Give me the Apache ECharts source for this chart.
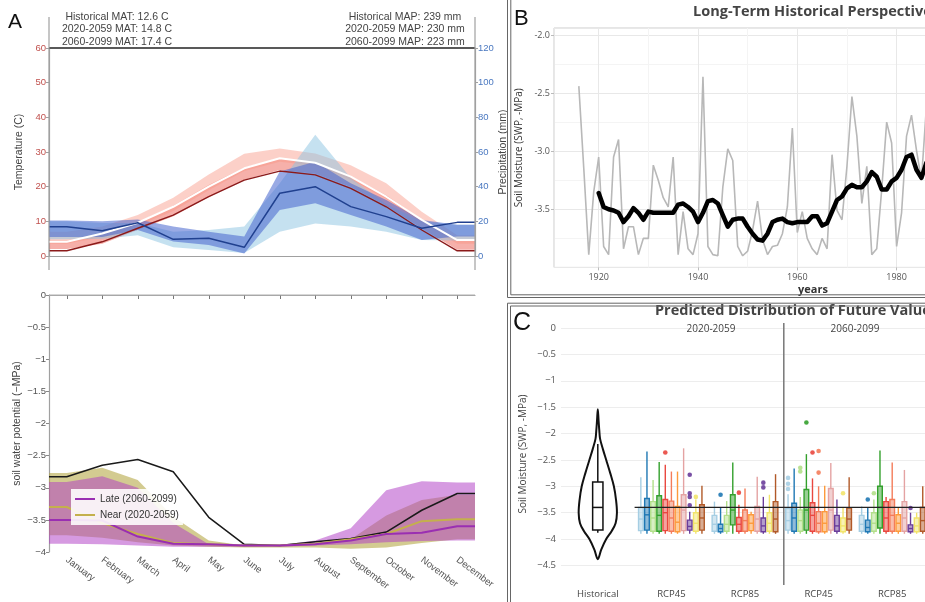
<!DOCTYPE html>
<html><head><meta charset="utf-8">
<script src="https://cdn.jsdelivr.net/npm/echarts@6/dist/echarts.min.js"></script>
<style>html,body{margin:0;padding:0;background:#fff}#c{width:925px;height:602px}</style>
</head><body><div id="c"></div>
<script>
// ---------------- Panel A data ----------------
const months = ['January','February','March','April','May','June','July','August','September','October','November','December'];
const tempHist   = [1.5, 4.1, 8.0, 11.8, 17.1, 21.9, 24.5, 23.4, 19.5, 14.2, 7.5, 1.5];
const tempFuture = [4.1, 6.5, 9.6, 14.2, 20.0, 25.3, 28.2, 26.9, 22.9, 17.1, 10.4, 4.6];
const tempNearLo = [2.0, 3.5, 7.5, 11.5, 17.0, 22.0, 24.8, 23.8, 20.0, 14.5, 8.0, 1.8];
const tempNearHi = [4.5, 6.5, 9.8, 14.5, 20.5, 25.5, 28.3, 27.0, 23.0, 17.5, 10.5, 4.8];
const tempFarLo  = [3.5, 5.5, 8.8, 13.0, 19.0, 24.5, 27.2, 26.0, 22.0, 16.5, 9.5, 3.5];
const tempFarHi  = [7.0, 8.5, 11.8, 16.8, 23.5, 29.5, 31.0, 29.6, 26.2, 21.0, 12.8, 6.0];
const precipHist    = [16.9, 14.6, 19.2, 9.6, 10.2, 5.0, 36.2, 40.0, 28.5, 22.7, 16.0, 19.4];
const precipDarkLo  = [11, 11, 15, 8.3, 6.3, 1.5, 26.5, 30.4, 23.7, 17, 9.2, 11.2];
const precipDarkHi  = [20.5, 20, 21, 17, 14, 11.2, 48.7, 54.4, 42, 32.3, 20.8, 18];
const precipLightLo = [9.6, 10, 12, 5, 3.5, 1.7, 14, 18.8, 17, 14, 9.2, 9];
const precipLightHi = [20, 19, 19, 14, 15, 17, 42, 70, 45, 30, 20, 18];
const swpHist   = [-2.83, -2.65, -2.56, -2.75, -3.46, -3.88, -3.9, -3.84, -3.79, -3.69, -3.35, -3.09];
const swpLate   = [-3.5, -3.51, -3.76, -3.87, -3.88, -3.9, -3.9, -3.88, -3.82, -3.72, -3.7, -3.6];
const swpNear   = [-3.3, -3.55, -3.72, -3.86, -3.88, -3.9, -3.9, -3.87, -3.8, -3.72, -3.52, -3.49];
const lateHi    = [-2.91, -2.82, -3.0, -3.55, -3.88, -3.9, -3.89, -3.82, -3.63, -3.04, -2.9, -2.92];
const lateLo    = [-3.87, -3.88, -3.9, -3.92, -3.92, -3.92, -3.92, -3.9, -3.88, -3.85, -3.83, -3.82];
const nearHi    = [-2.77, -2.69, -2.88, -3.45, -3.82, -3.9, -3.9, -3.86, -3.8, -3.43, -3.19, -3.11];
const nearLo    = [-3.74, -3.78, -3.85, -3.9, -3.92, -3.93, -3.93, -3.93, -3.95, -3.93, -3.86, -3.8];
const headerLeft  = ['Historical MAT: 12.6 C', '2020-2059 MAT: 14.8 C', '2060-2099 MAT: 17.4 C'];
const headerRight = ['Historical MAP: 239 mm', '2020-2059 MAP: 230 mm', '2060-2099 MAP: 223 mm'];

// ---------------- Panel B data ----------------
const annualStart = 1916;
const annualSWP = [-2.44,-3.15,-3.89,-3.35,-3.05,-3.82,-3.89,-3.05,-2.90,-3.84,
  -3.65,-3.65,-3.89,-3.75,-3.75,-3.12,-3.25,-3.40,-3.48,-3.05,
  -3.89,-3.52,-3.84,-3.89,-3.71,-2.36,-3.82,-3.89,-3.90,-3.31,
  -2.98,-3.08,-3.82,-3.90,-3.86,-3.68,-3.43,-3.76,-3.89,-3.82,
  -3.81,-3.71,-3.48,-2.80,-3.70,-3.52,-3.75,-3.84,-3.89,-3.75,
  -3.84,-3.03,-3.51,-3.59,-3.13,-2.53,-2.87,-3.45,-3.13,-3.89,
  -3.84,-3.33,-2.75,-2.93,-3.82,-3.53,-2.87,-2.69,-2.99,-3.25,-2.62];
const smoothStart = 1920;
const smoothSWP = [-3.36,-3.48,-3.50,-3.51,-3.53,-3.61,-3.56,-3.49,-3.53,-3.59,
  -3.52,-3.53,-3.53,-3.53,-3.53,-3.53,-3.46,-3.45,-3.48,-3.52,
  -3.61,-3.53,-3.43,-3.42,-3.45,-3.55,-3.65,-3.59,-3.58,-3.58,
  -3.65,-3.71,-3.76,-3.77,-3.71,-3.61,-3.59,-3.58,-3.61,-3.62,
  -3.61,-3.61,-3.61,-3.56,-3.56,-3.64,-3.62,-3.52,-3.42,-3.39,
  -3.32,-3.29,-3.31,-3.31,-3.26,-3.18,-3.22,-3.33,-3.33,-3.26,
  -3.23,-3.16,-3.05,-3.03,-3.16,-3.23,-3.10,-3.02];

// ---------------- Panel C data ----------------
const cCats = ['Historical', 'RCP45|a', 'RCP85|a', 'RCP45|b', 'RCP85|b'];
const violinLevels  = [-1.54, -1.75, -1.95, -2.1, -2.3, -2.5, -2.75, -3.0, -3.25, -3.5, -3.7, -3.85, -4.0, -4.2, -4.38];
const violinDensity = [0, 0.04, 0.08, 0.12, 0.27, 0.44, 0.65, 0.84, 0.95, 1.0, 0.93, 0.72, 0.44, 0.18, 0];
const histBox = [-3.88, -3.83, -3.4, -2.92, -2.2]; // low, q1, median, q3, high
const histMedian = -3.4;
const modelColors = ['#a6cee3','#1f78b4','#b2df8a','#33a02c','#e9473f','#f47c5a','#fd9a3c','#e4a3a3','#6a3d9a','#f2e46b','#b15928'];
// rows: RCP45 20-59, RCP85 20-59, RCP45 60-99, RCP85 60-99 ; columns: models
const boxHigh = [
  [-2.83,-2.34,-2.88,-2.54,-2.59,-2.72,-2.72,-2.28,-3.48,-3.25,-2.99],
  [-3.29,-3.41,-3.28,-2.55,-3.35,-3.04,-3.48,-2.82,-3.20,-3.16,-2.77],
  [-3.15,-2.66,-3.20,-2.39,-2.85,-3.00,-2.99,-2.56,-3.25,-3.40,-2.83],
  [-3.38,-3.41,-3.25,-2.32,-3.20,-2.55,-3.40,-2.69,-3.50,-3.50,-3.00]];
const boxQ3 = [
  [-3.40,-3.23,-3.29,-3.18,-3.25,-3.28,-3.38,-3.16,-3.64,-3.50,-3.35],
  [-3.55,-3.72,-3.55,-3.16,-3.59,-3.45,-3.54,-3.38,-3.60,-3.50,-3.29],
  [-3.42,-3.32,-3.45,-3.06,-3.31,-3.48,-3.48,-3.04,-3.55,-3.60,-3.41],
  [-3.55,-3.64,-3.50,-3.00,-3.29,-3.25,-3.54,-3.29,-3.73,-3.60,-3.40]];
const boxMed = [
  [-3.62,-3.54,-3.60,-3.55,-3.50,-3.60,-3.68,-3.45,-3.76,-3.70,-3.60],
  [-3.72,-3.80,-3.72,-3.45,-3.72,-3.65,-3.70,-3.62,-3.75,-3.70,-3.62],
  [-3.65,-3.60,-3.65,-3.45,-3.55,-3.70,-3.70,-3.45,-3.75,-3.75,-3.62],
  [-3.72,-3.78,-3.70,-3.40,-3.60,-3.55,-3.70,-3.60,-3.80,-3.75,-3.65]];
const boxQ1 = [
  [-3.84,-3.83,-3.85,-3.85,-3.84,-3.85,-3.86,-3.84,-3.83,-3.85,-3.83],
  [-3.85,-3.86,-3.85,-3.73,-3.85,-3.85,-3.84,-3.85,-3.86,-3.85,-3.86],
  [-3.83,-3.85,-3.85,-3.83,-3.85,-3.86,-3.86,-3.83,-3.85,-3.86,-3.83],
  [-3.85,-3.86,-3.85,-3.79,-3.85,-3.85,-3.85,-3.85,-3.86,-3.86,-3.85]];
const boxLow = [
  [-3.9,-3.9,-3.9,-3.9,-3.9,-3.9,-3.9,-3.9,-3.9,-3.9,-3.9],
  [-3.9,-3.9,-3.9,-3.9,-3.9,-3.9,-3.9,-3.9,-3.9,-3.9,-3.9],
  [-3.9,-3.9,-3.9,-3.9,-3.9,-3.9,-3.9,-3.9,-3.9,-3.9,-3.9],
  [-3.9,-3.9,-3.9,-3.9,-3.9,-3.9,-3.9,-3.9,-3.9,-3.9,-3.9]];
// [category, model, value]
const outliers = [[1,4,-2.36],[1,8,-2.78],[1,8,-3.13],[1,8,-3.2],[1,8,-3.36],[1,9,-3.2],
  [2,1,-3.16],[2,4,-3.12],[2,8,-2.93],[2,8,-3.02],
  [3,3,-1.79],[3,2,-2.65],[3,2,-2.72],[3,4,-2.36],[3,5,-2.33],[3,5,-2.74],[3,9,-3.13],[3,0,-2.84],[3,0,-2.95],[3,0,-3.05],
  [4,1,-3.25],[4,2,-3.13],[4,8,-3.41]];

// ---------------- helpers ----------------
const FA = '"Liberation Sans", Arial, sans-serif';
const FB = '"Open Sans", "Liberation Sans", sans-serif';
const ext = arr => [[0.5, arr[0]]].concat(arr.map((v, i) => [i + 1, v]), [[12.5, arr[arr.length - 1]]]);
const minusFmt = v => Math.abs(v) < 1e-9 ? '0' : (v < 0 ? '\u2212' : '') + String(Math.round(Math.abs(v) * 100) / 100);
function fade(hex, a) {
  const n = parseInt(hex.slice(1), 16);
  return 'rgba(' + (n >> 16) + ',' + ((n >> 8) & 255) + ',' + (n & 255) + ',' + a + ')';
}
function band(xi, yi, lower, upper, color, z) {
  const lo = ext(lower), up = ext(upper);
  return {
    type: 'custom', xAxisIndex: xi, yAxisIndex: yi, z: z || 2, silent: true,
    data: lo.map((p, i) => [p[0], p[1], up[i][1]]),
    encode: {x: 0, y: [1, 2]},
    renderItem(params, api) {
      if (params.dataIndex !== 0) return null;
      const top = up.map(p => api.coord(p));
      const bot = lo.map(p => api.coord(p)).reverse();
      return {type: 'polygon', shape: {points: top.concat(bot)}, style: {fill: color}};
    }
  };
}
function mline(name, xi, yi, arr, color, width, z) {
  return {type: 'line', name, xAxisIndex: xi, yAxisIndex: yi, data: ext(arr), symbol: 'none',
    lineStyle: {color, width}, itemStyle: {color}, z: z || 3, silent: true};
}
function modelSeries(m) {
  const data = [];
  for (let g = 0; g < 4; g++) data.push([g + 1, boxLow[g][m], boxQ1[g][m], boxMed[g][m], boxQ3[g][m], boxHigh[g][m]]);
  const col = modelColors[m];
  const n = modelColors.length;
  return {
    type: 'custom', xAxisIndex: 4, yAxisIndex: 4, z: 4, silent: true, data, encode: {x: 0, y: [1, 5]},
    renderItem(params, api) {
      const bw = api.size([1, 0])[0];
      const step = bw * 0.083;
      const cat = api.value(0);
      const cx = api.coord([cat, 0])[0] + (m - (n - 1) / 2) * step;
      const w = step * 0.76;
      const y = k => api.coord([cat, api.value(k)])[1];
      const yl = y(1), yq1 = y(2), ym = y(3), yq3 = y(4), yh = y(5);
      const st = {stroke: col, lineWidth: 1.4};
      return {type: 'group', children: [
        {type: 'line', shape: {x1: cx, y1: yh, x2: cx, y2: yq3}, style: st},
        {type: 'line', shape: {x1: cx, y1: yq1, x2: cx, y2: yl}, style: st},
        {type: 'rect', shape: {x: cx - w / 2, y: yq3, width: w, height: yq1 - yq3}, style: {fill: fade(col, 0.5), stroke: col, lineWidth: 1.4}},
        {type: 'line', shape: {x1: cx - w / 2, y1: ym, x2: cx + w / 2, y2: ym}, style: st}
      ]};
    }
  };
}

const series = [];
// Panel A top
series.push(band(0, 0, tempNearLo, tempNearHi, 'rgba(238,98,86,0.5)', 2));
series.push(band(0, 0, tempFarLo, tempFarHi, 'rgba(248,150,132,0.45)', 2));
series.push(band(0, 1, precipLightLo, precipLightHi, 'rgba(140,195,225,0.5)', 2));
series.push(band(0, 1, precipDarkLo, precipDarkHi, 'rgba(70,100,205,0.55)', 2));
series.push(mline('histT', 0, 0, tempHist, '#8b1a1a', 1.4, 3));
series.push(mline('futT', 0, 0, tempFuture, '#ffffff', 2, 3));
series.push(mline('histP', 0, 1, precipHist, '#20408f', 1.5, 3));
// Panel A bottom
series.push(band(2, 2, nearLo, nearHi, 'rgba(182,168,72,0.6)', 2));
series.push(band(2, 2, lateLo, lateHi, 'rgba(176,62,198,0.52)', 2));
series.push(mline('histSWP', 2, 2, swpHist, '#1a1a1a', 1.5, 3));
series.push(mline('Near (2020-2059)', 2, 2, swpNear, '#c4b04c', 2, 3));
series.push(mline('Late (2060-2099)', 2, 2, swpLate, '#9a2fb2', 2, 3));
// Panel B
series.push({type: 'line', xAxisIndex: 3, yAxisIndex: 3, data: annualSWP.map((v, i) => [annualStart + i, v]),
  symbol: 'none', lineStyle: {color: '#b8b8b8', width: 1.6}, z: 3, silent: true});
series.push({type: 'line', xAxisIndex: 3, yAxisIndex: 3, data: smoothSWP.map((v, i) => [smoothStart + i, v]),
  symbol: 'none', lineStyle: {color: '#000', width: 4.5, join: 'round', cap: 'round'}, z: 4, silent: true});
// Panel C: separator between periods
series.push({type: 'custom', xAxisIndex: 4, yAxisIndex: 4, z: 2, silent: true, data: [[0, histMedian]],
  renderItem(params, api) {
    const cs = params.coordSys;
    const bw = api.size([1, 0])[0];
    const xSep = api.coord([2, 0])[0] + bw / 2 + 2;
    return {type: 'line', shape: {x1: xSep, y1: cs.y, x2: xSep, y2: cs.y + cs.height}, style: {stroke: '#777', lineWidth: 1.5}};
  }});
// violin
series.push({type: 'custom', xAxisIndex: 4, yAxisIndex: 4, z: 3, silent: true, data: [[0, histMedian]],
  renderItem(params, api) {
    const bw = api.size([1, 0])[0];
    const cx = api.coord([0, 0])[0];
    const maxHalf = bw * 0.26;
    const right = [], left = [];
    violinLevels.forEach((v, i) => {
      const y = api.coord([0, v])[1];
      right.push([cx + violinDensity[i] * maxHalf, y]);
      if (i > 0 && i < violinLevels.length - 1) left.push([cx - violinDensity[i] * maxHalf, y]);
    });
    const pts = right.concat(left.reverse());
    const w = bw * 0.14;
    const [yl, yq1, ym, yq3, yh] = histBox.map(v => api.coord([0, v])[1]);
    const st = {stroke: '#111', lineWidth: 1.5};
    return {type: 'group', children: [
      {type: 'polygon', shape: {points: pts, smooth: 0.35}, style: {fill: '#fff', stroke: '#111', lineWidth: 2}},
      {type: 'line', shape: {x1: cx, y1: yh, x2: cx, y2: yq3}, style: st},
      {type: 'line', shape: {x1: cx, y1: yq1, x2: cx, y2: yl}, style: st},
      {type: 'rect', shape: {x: cx - w / 2, y: yq3, width: w, height: yq1 - yq3}, style: {fill: 'none', stroke: '#111', lineWidth: 1.5}},
      {type: 'line', shape: {x1: cx - w / 2, y1: ym, x2: cx + w / 2, y2: ym}, style: st}
    ]};
  }});
for (let m = 0; m < modelColors.length; m++) series.push(modelSeries(m));
series.push({type: 'custom', xAxisIndex: 4, yAxisIndex: 4, z: 5, silent: true, data: outliers, encode: {x: 0, y: 2},
  renderItem(params, api) {
    const bw = api.size([1, 0])[0];
    const step = bw * 0.083;
    const n = modelColors.length;
    const m = api.value(1);
    const p = api.coord([api.value(0), api.value(2)]);
    return {type: 'circle', shape: {cx: p[0] + (m - (n - 1) / 2) * step, cy: p[1], r: 2.3},
      style: {fill: modelColors[m], opacity: 0.9}};
  }});
// historical median reference line over the future groups
series.push({type: 'custom', xAxisIndex: 4, yAxisIndex: 4, z: 6, silent: true, data: [[0, histMedian]],
  renderItem(params, api) {
    const bw = api.size([1, 0])[0];
    const y = api.coord([0, api.value(1)])[1];
    const x0 = api.coord([1, 0])[0] - bw / 2;
    const x1 = api.coord([4, 0])[0] + bw / 2;
    return {type: 'line', shape: {x1: x0, y1: y, x2: x1, y2: y}, style: {stroke: '#222', lineWidth: 1.3}};
  }});

function txt(text, x, y, opts) {
  return Object.assign({type: 'text', silent: true, z: 20, style: Object.assign({text, x, y, fill: '#444', fontSize: 10.5,
    fontFamily: FA, align: 'center', textAlign: 'center', verticalAlign: 'middle', textVerticalAlign: 'middle'}, opts || {})});
}
function pl(points, color, w) {
  return {type: 'polyline', silent: true, z: 20, shape: {points}, style: {stroke: color, lineWidth: w || 1, fill: null}};
}
const graphics = [];
headerLeft.forEach((t, i) => graphics.push(txt(t, 117, 17 + i * 12.4)));
headerRight.forEach((t, i) => graphics.push(txt(t, 405, 17 + i * 12.4)));
graphics.push(txt('A', 8, 22, {fontSize: 21, fill: '#111', align: 'left', textAlign: 'left'}));
graphics.push(txt('B', 514, 19, {fontSize: 22, fill: '#111', align: 'left', textAlign: 'left'}));
graphics.push(txt('C', 513, 323, {fontSize: 25, fill: '#111', align: 'left', textAlign: 'left'}));
graphics.push(txt('Long-Term Historical Perspective', 693, 12, {fontSize: 14.5, fontWeight: 'bold', fill: '#444', fontFamily: FB, align: 'left', textAlign: 'left'}));
graphics.push(txt('Predicted Distribution of Future Values', 655, 311, {fontSize: 14.5, fontWeight: 'bold', fill: '#444', fontFamily: FB, align: 'left', textAlign: 'left'}));
graphics.push(txt('2020-2059', 711, 329, {fontSize: 10, fill: '#444', fontFamily: FB}));
graphics.push(txt('2060-2099', 855, 329, {fontSize: 10, fill: '#444', fontFamily: FB}));
graphics.push(txt('years', 813, 290, {fontSize: 11, fontWeight: 'bold', fill: '#333', fontFamily: FB}));
// frames
graphics.push(pl([[49, 48], [475, 48]], '#222', 1.3));
graphics.push(pl([[49, 17], [49, 270]], '#a0a0a0', 1.2));
graphics.push(pl([[475, 17], [475, 270]], '#a0a0a0', 1.2));
graphics.push(pl([[49, 295], [475, 295]], '#b0b0b0', 1.2));
graphics.push(pl([[507.5, 0], [507.5, 297.5], [925, 297.5]], '#666', 1));
graphics.push(pl([[510.8, 0], [510.8, 294.8], [925, 294.8]], '#666', 1));
graphics.push(pl([[507.5, 602], [507.5, 303.2], [925, 303.2]], '#666', 1));
graphics.push(pl([[510.5, 602], [510.5, 306], [925, 306]], '#666', 1));

const option = {
  animation: false,
  backgroundColor: '#fff',
  grid: [
    {left: 49, top: 48, width: 426, height: 208, outerBoundsMode: 'none'},
    {left: 49, top: 295, width: 426, height: 257, outerBoundsMode: 'none'},
    {left: 554, top: 28, width: 372, height: 239.4, show: true, borderColor: '#cccccc', borderWidth: 1, backgroundColor: 'transparent', outerBoundsMode: 'none'},
    {left: 561, top: 323, width: 368, height: 262, outerBoundsMode: 'none'}
  ],
  xAxis: [
    {type: 'value', gridIndex: 0, min: 0.5, max: 12.5, axisLine: {show: true, onZero: false, lineStyle: {color: '#a0a0a0', width: 1.2}},
      axisTick: {show: false}, axisLabel: {show: false}, splitLine: {show: false}},
    {type: 'category', gridIndex: 1, data: months, boundaryGap: true,
      axisLine: {show: true, lineStyle: {color: '#a0a0a0', width: 1.2}},
      axisTick: {show: true, alignWithLabel: true, length: 4, lineStyle: {color: '#777'}},
      axisLabel: {rotate: -37, margin: 7, fontSize: 9.5, color: '#555', fontFamily: FA, interval: 0}, splitLine: {show: false}},
    {type: 'value', gridIndex: 1, min: 0.5, max: 12.5, show: false},
    {type: 'value', gridIndex: 2, min: 1911, max: 1985.92, splitNumber: 4, axisLine: {show: false},
      axisTick: {show: true, length: 3, lineStyle: {color: '#bbb'}},
      axisLabel: {fontSize: 9, color: '#555', margin: 6, showMinLabel: false, showMaxLabel: false, fontFamily: FB, formatter: v => String(v)},
      splitLine: {show: true, lineStyle: {color: '#e8e8e8'}},
      minorTick: {show: false, splitNumber: 2}, minorSplitLine: {show: true, lineStyle: {color: '#f4f4f4'}}},
    {type: 'category', gridIndex: 3, data: cCats, boundaryGap: true, axisLine: {show: false}, axisTick: {show: false},
      axisLabel: {formatter: v => v.split('|')[0], fontSize: 9.5, color: '#444', margin: 4, fontFamily: FB, interval: 0}, splitLine: {show: false}}
  ],
  yAxis: [
    {type: 'value', gridIndex: 0, min: 0, max: 60, interval: 10, position: 'left',
      name: 'Temperature (C)', nameLocation: 'middle', nameGap: 24, nameTextStyle: {color: '#444', fontSize: 10.5, fontFamily: FA},
      axisLine: {show: true, lineStyle: {color: '#a0a0a0', width: 1.2}}, axisTick: {show: true, length: 3, lineStyle: {color: '#a0a0a0'}},
      axisLabel: {color: '#c0504d', fontSize: 9.5, margin: 3, fontFamily: FA}, splitLine: {show: false}},
    {type: 'value', gridIndex: 0, min: 0, max: 120, interval: 20, position: 'right',
      name: 'Precipitation (mm)', nameLocation: 'middle', nameGap: 20, nameTextStyle: {color: '#444', fontSize: 10.5, fontFamily: FA},
      axisLine: {show: true, lineStyle: {color: '#a0a0a0', width: 1.2}}, axisTick: {show: true, length: 3, lineStyle: {color: '#a0a0a0'}},
      axisLabel: {color: '#4a78c0', fontSize: 9.5, margin: 3, fontFamily: FA}, splitLine: {show: false}},
    {type: 'value', gridIndex: 1, min: -4, max: 0, interval: 0.5,
      name: 'soil water potential (\u2212MPa)', nameLocation: 'middle', nameGap: 26, nameTextStyle: {color: '#444', fontSize: 10.5, fontFamily: FA},
      axisLine: {show: true, lineStyle: {color: '#a0a0a0', width: 1.2}}, axisTick: {show: true, length: 3, lineStyle: {color: '#888'}},
      axisLabel: {color: '#555', fontSize: 9.5, margin: 3, fontFamily: FA, formatter: minusFmt}, splitLine: {show: false}},
    {type: 'value', gridIndex: 2, min: -4, max: -1.94, interval: 0.5,
      name: 'Soil Moisture (SWP, -MPa)', nameLocation: 'middle', nameGap: 30, nameTextStyle: {color: '#333', fontSize: 10, fontFamily: FB},
      axisLine: {show: false}, axisTick: {show: true, length: 3, lineStyle: {color: '#bbb'}},
      axisLabel: {color: '#555', fontSize: 9, margin: 4, fontFamily: FB, showMinLabel: false, showMaxLabel: false, formatter: v => v.toFixed(1)},
      splitLine: {show: true, lineStyle: {color: '#e8e8e8'}},
      minorTick: {show: false, splitNumber: 2}, minorSplitLine: {show: true, lineStyle: {color: '#f4f4f4'}}},
    {type: 'value', gridIndex: 3, min: -4.87, max: 0.095, splitNumber: 10,
      name: 'Soil Moisture (SWP, -MPa)', nameLocation: 'middle', nameGap: 33, nameTextStyle: {color: '#444', fontSize: 10, fontFamily: FB},
      axisLine: {show: false}, axisTick: {show: false},
      axisLabel: {color: '#555', fontSize: 9.5, margin: 5, fontFamily: FB, showMinLabel: false, showMaxLabel: false, formatter: minusFmt},
      splitLine: {show: true, showMinLine: false, showMaxLine: false, lineStyle: {color: '#ededed'}}}
  ],
  legend: {data: ['Late (2060-2099)', 'Near (2020-2059)'], left: 71, top: 489, orient: 'vertical', icon: 'rect',
    itemWidth: 20, itemHeight: 2, itemGap: 6, backgroundColor: 'rgba(255,255,255,0.88)', padding: [5, 4, 5, 4],
    selectedMode: false, z: 15, textStyle: {fontSize: 10, color: '#333', fontFamily: FA}},
  series,
  graphic: graphics
};
const chart = echarts.init(document.getElementById('c'));
chart.setOption(option);
</script>
</body></html>
